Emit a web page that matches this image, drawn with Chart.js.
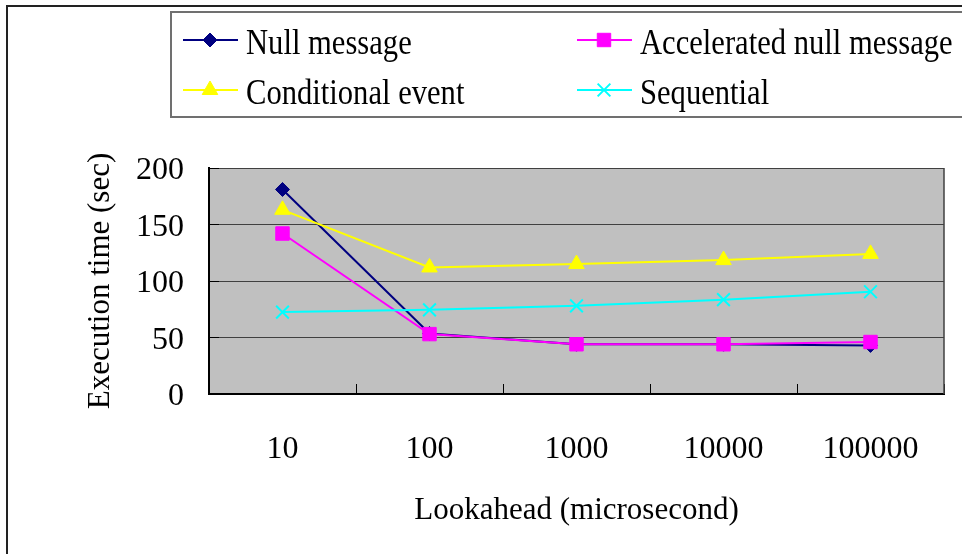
<!doctype html>
<html lang="en">
  <head>
    <meta charset="UTF-8" />
    <title>Execution time vs lookahead</title>
    <script src="https://cdn.jsdelivr.net/npm/chart.js"></script>
    <style>
      html, body { margin: 0; padding: 0; background: #fff; }
      canvas { display: block; }
    </style>
  </head>
  <body>
    <canvas id="chart" width="962" height="554"></canvas>

    <script>
      // data
      const lookahead = ["10", "100", "1000", "10000", "100000"];
      const nullMessage = [181, 53.5, 44, 44, 43];
      const acceleratedNull = [142, 53, 44, 44, 46];
      const conditionalEvent = [163, 112, 115, 118.5, 124];
      const sequential = [72.5, 74.5, 78, 83.5, 90.5];
      const yMin = 0;
      const yMax = 200;
      const yStep = 50;

      const serif = '"Liberation Serif", "Times New Roman", serif';

      // grey plot area, outer frame, right edge of plot
      const framePlugin = {
        id: "frame",
        beforeDraw(chart) {
          const { ctx, chartArea: a } = chart;
          ctx.save();
          ctx.fillStyle = "#fff";
          ctx.fillRect(0, 0, chart.width, chart.height);
          ctx.fillStyle = "#c0c0c0";
          ctx.fillRect(a.left, a.top, a.right - a.left, a.bottom - a.top);
          ctx.strokeStyle = "#222";
          ctx.lineWidth = 2;
          ctx.strokeRect(7, 6, 1000, 600);
          ctx.restore();
        },
        beforeDatasetsDraw(chart) {
          const { ctx, chartArea: a } = chart;
          ctx.save();
          ctx.strokeStyle = "#404040";
          ctx.lineWidth = 1.5;
          ctx.beginPath();
          ctx.moveTo(a.right, a.top);
          ctx.lineTo(a.right, a.bottom);
          ctx.stroke();
          ctx.restore();
        },
      };

      // two-column boxed legend like the original
      const legendPlugin = {
        id: "boxLegend",
        afterDraw(chart) {
          const ctx = chart.ctx;
          const colX = [183, 577];
          const rowY = [40, 90];
          ctx.save();
          ctx.strokeStyle = "#707070";
          ctx.lineWidth = 2;
          ctx.strokeRect(171, 12, 820, 105);
          chart.data.datasets.forEach((ds, i) => {
            const x0 = colX[i % 2];
            const y = rowY[Math.floor(i / 2)];
            ctx.strokeStyle = ds.borderColor;
            ctx.lineWidth = 2;
            ctx.beginPath();
            ctx.moveTo(x0, y);
            ctx.lineTo(x0 + 55, y);
            ctx.stroke();
            ctx.fillStyle = ds.backgroundColor;
            ctx.lineWidth = ds.pointBorderWidth;
            Chart.helpers.drawPoint(
              ctx,
              { pointStyle: ds.pointStyle, radius: ds.pointRadius, rotation: 0, borderWidth: ds.pointBorderWidth },
              x0 + 27,
              y
            );
            ctx.save();
            ctx.fillStyle = "#000";
            ctx.font = "36px " + serif;
            ctx.textBaseline = "alphabetic";
            ctx.translate(x0 + 63, y + 14);
            ctx.scale(0.85, 1);
            ctx.fillText(ds.label, 0, 0);
            ctx.restore();
          });
          ctx.restore();
        },
      };

      new Chart(document.getElementById("chart"), {
        type: "line",
        data: {
          labels: lookahead,
          datasets: [
            {
              label: "Null message",
              data: nullMessage,
              borderColor: "#000080",
              backgroundColor: "#000080",
              borderWidth: 2,
              pointStyle: "rectRot",
              pointRadius: 7,
              pointBorderWidth: 1,
              order: 4,
            },
            {
              label: "Accelerated null message",
              data: acceleratedNull,
              borderColor: "#ff00ff",
              backgroundColor: "#ff00ff",
              borderWidth: 2,
              pointStyle: "rect",
              pointRadius: 9.5,
              pointBorderWidth: 1,
              order: 3,
            },
            {
              label: "Conditional event",
              data: conditionalEvent,
              borderColor: "#ffff00",
              backgroundColor: "#ffff00",
              borderWidth: 2,
              pointStyle: "triangle",
              pointRadius: 9,
              pointBorderWidth: 1,
              order: 2,
            },
            {
              label: "Sequential",
              data: sequential,
              borderColor: "#00ffff",
              backgroundColor: "#00ffff",
              borderWidth: 2,
              pointStyle: "crossRot",
              pointRadius: 9,
              pointBorderWidth: 2,
              order: 1,
            },
          ],
        },
        options: {
          responsive: false,
          animation: false,
          devicePixelRatio: 1,
          layout: { padding: { top: 168, right: 18, bottom: 0, left: 0 } },
          plugins: {
            legend: { display: false },
            tooltip: { enabled: false },
          },
          scales: {
            x: {
              offset: true,
              grid: {
                offset: true,
                drawOnChartArea: false,
                tickLength: -10,
                color: "#000",
              },
              border: { color: "#000", width: 2 },
              ticks: { color: "#000", font: { family: serif, size: 32 }, padding: 46 },
              title: {
                display: true,
                text: "Lookahead (microsecond)",
                color: "#000",
                font: { family: serif, size: 31 },
                padding: { top: 0, bottom: 25 },
              },
              afterFit: (s) => {
                s.height = 160;
                s.paddingLeft = 0;
                s.paddingRight = 0;
              },
            },
            y: {
              min: yMin,
              max: yMax,
              ticks: { stepSize: yStep, color: "#000", font: { family: serif, size: 32 }, padding: 35, labelOffset: 3 },
              grid: { color: "#404040", tickColor: "#000", tickLength: -10, lineWidth: 1 },
              border: { color: "#000", width: 2 },
              title: {
                display: true,
                text: "Execution time (sec)",
                color: "#000",
                font: { family: serif, size: 31 },
                padding: { top: 82, bottom: 0 },
              },
              afterFit: (s) => { s.width = 209; },
            },
          },
        },
        plugins: [framePlugin, legendPlugin],
      });
    </script>
  </body>
</html>
